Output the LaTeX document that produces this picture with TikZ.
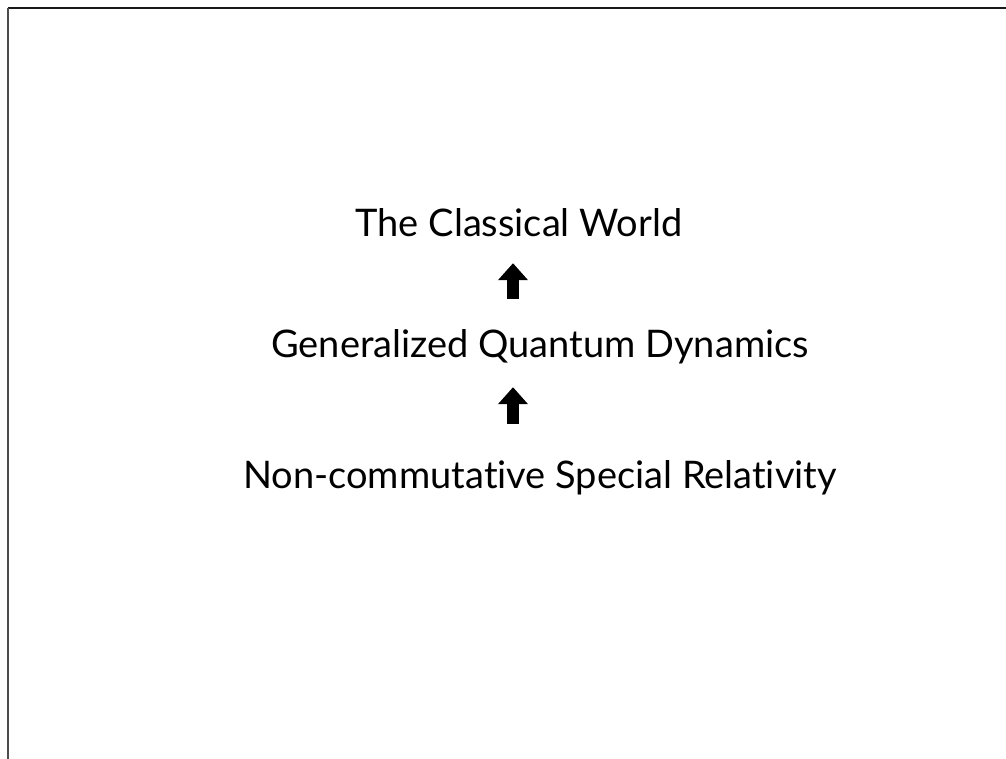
\documentclass[tikz,border=0pt]{standalone}
\usepackage{fontspec}
\setmainfont[Ligatures={NoCommon,NoRare}]{Lato}
\usetikzlibrary{arrows.meta}

\begin{document}
\begin{tikzpicture}[x=1pt, y=-1pt, every node/.style={font=\fontsize{38}{42}\selectfont, inner sep=0pt, text height=28pt, text depth=9pt}, uparrow/.style={line width=12pt, -{Triangle[width=29pt,length=17pt]}}]
    \useasboundingbox (0,0) rectangle (1006,759);
    \draw[line width=2pt, black!90] (8,8) -- (1006,8);
    \draw[line width=2pt, black!70] (8,8) -- (8,759);
    \coordinate (axis) at (513,0);

    \node[anchor=base] (classical) at (519,237) {The Classical World};
    \node[anchor=base] (quantum) at (540,357) {Generalized Quantum Dynamics};
    \node[anchor=base] (relativity) at (540,488) {Non-commutative Special Relativity};

    \draw[uparrow, shorten >=17pt, shorten <=30pt] (quantum.north -| axis) -- (classical.south -| axis);
    \draw[uparrow, shorten >=21pt, shorten <=36pt] (relativity.north -| axis) -- (quantum.south -| axis);
\end{tikzpicture}
\end{document}
